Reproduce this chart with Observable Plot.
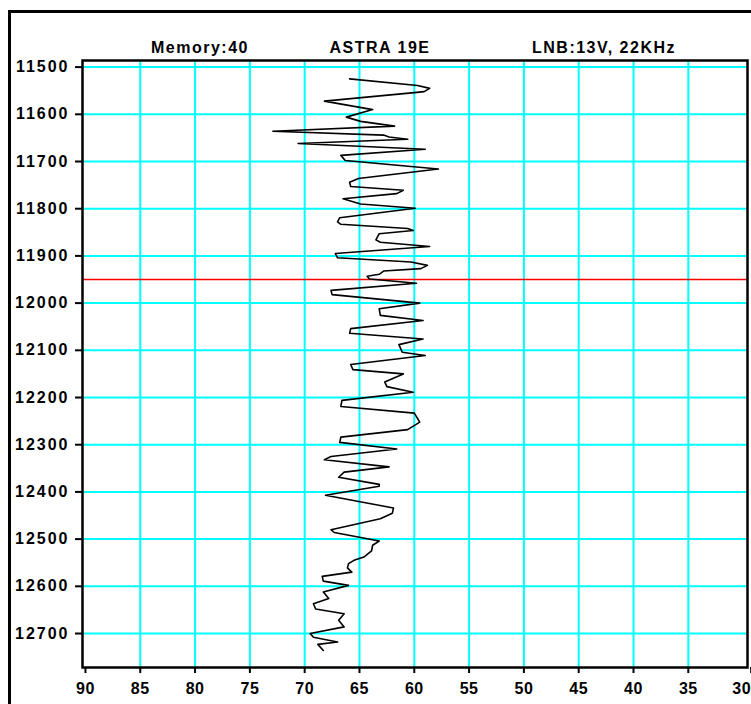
<!DOCTYPE html>
<html>
<head>
<meta charset="utf-8">
<script src="https://cdn.jsdelivr.net/npm/d3@7"></script>
<script src="https://cdn.jsdelivr.net/npm/@observablehq/plot@0.6"></script>
<style>
  html, body { margin: 0; padding: 0; background: #fff; overflow: hidden; }
  #wrap { position: relative; width: 751px; height: 704px; overflow: hidden; }
  #outer { position: absolute; left: 8px; top: 10px; width: 900px; height: 900px;
           border-top: 3px solid #000; border-left: 3px solid #000; pointer-events: none; }
  .ttl { position: absolute; top: 40px; font-family: "Liberation Sans", Arial, sans-serif;
         font-weight: bold; font-size: 16px; line-height: 1; letter-spacing: 1.5px;
         transform: translateX(-50%); white-space: nowrap; color: #000; }
  svg g[aria-label="y-axis tick label"] text { letter-spacing: 2px; }
  svg g[aria-label="x-axis tick label"] text { letter-spacing: 0.5px; }
</style>
</head>
<body>
<div id="wrap"></div>
<script>
// ---- data ----
const titles = ["Memory:40", "ASTRA 19E", "LNB:13V, 22KHz"];
const titleCenters = [200, 380, 604];
const xTicks = [90, 85, 80, 75, 70, 65, 60, 55, 50, 45, 40, 35, 30];
const yTicks = [11500, 11600, 11700, 11800, 11900, 12000, 12100, 12200, 12300, 12400, 12500, 12600, 12700];
const markerFreq = [11950];
const freq = [
  11525, 11539, 11545, 11552, 11554, 11572, 11590, 11606, 11615, 11625,
  11636, 11644, 11648, 11653, 11662, 11674, 11687, 11698, 11716, 11736,
  11744, 11753, 11761, 11768, 11779, 11790, 11799, 11819, 11828, 11833,
  11842, 11846, 11853, 11866, 11871, 11880, 11895, 11904, 11913, 11920,
  11927, 11932, 11939, 11943, 11949, 11958, 11973, 11982, 12000, 12012,
  12026, 12037, 12054, 12064, 12076, 12088, 12104, 12111, 12130, 12141,
  12150, 12167, 12177, 12189, 12206, 12219, 12233, 12252, 12268, 12284,
  12295, 12309, 12325, 12332, 12347, 12358, 12369, 12384, 12388, 12407,
  12434, 12445, 12457, 12480, 12486, 12504, 12513, 12525, 12538, 12545,
  12552, 12561, 12570, 12579, 12589, 12598, 12612, 12626, 12637, 12648,
  12658, 12672, 12686, 12700, 12708, 12718, 12723, 12736
];
const level = [
  65.9, 59.7, 58.6, 59.1, 60.0, 68.2, 63.8, 66.2, 64.9, 61.8,
  72.9, 62.8, 62.3, 60.6, 70.6, 59.0, 66.7, 66.3, 57.8, 65.1,
  65.9, 65.8, 61.0, 61.6, 66.5, 64.9, 59.9, 66.8, 67.0, 66.7,
  60.6, 60.1, 63.2, 63.5, 63.1, 58.6, 67.2, 67.0, 60.3, 58.8,
  59.4, 62.8, 63.2, 64.3, 64.1, 59.8, 67.6, 67.5, 59.5, 63.2,
  63.1, 59.2, 65.8, 65.9, 59.2, 61.4, 61.1, 59.0, 65.8, 65.6,
  61.0, 62.7, 62.5, 60.1, 66.6, 66.7, 60.0, 59.5, 60.6, 66.7,
  66.8, 61.6, 67.6, 68.2, 62.3, 66.4, 66.9, 63.2, 63.2, 68.1,
  61.9, 62.0, 63.1, 67.6, 67.3, 63.2, 63.8, 63.9, 64.6, 65.5,
  66.0, 66.1, 65.7, 68.4, 68.3, 66.0, 68.3, 67.8, 69.2, 69.0,
  66.4, 66.9, 66.4, 69.5, 69.2, 67.0, 68.8, 68.3
];

const trace = freq.map((f, i) => ({freq: f, level: level[i]}));
const fmt = d => String(d);

const chart = Plot.plot({
  width: 751,
  height: 704,
  marginLeft: 82,
  marginRight: 4,
  marginTop: 60,
  marginBottom: 37,
  style: {fontFamily: "'Liberation Sans', Arial, sans-serif", fontSize: "16px", fontWeight: "bold", background: "transparent", color: "#000"},
  x: {domain: [90.27, 29.6], label: null},
  y: {domain: [11486, 12772], reverse: true, label: null},
  marks: [
    Plot.gridX(xTicks.slice(1, -1), {stroke: "#00ffff", strokeOpacity: 1, strokeWidth: 2}),
    Plot.gridY(yTicks, {stroke: "#00ffff", strokeOpacity: 1, strokeWidth: 2}),
    Plot.ruleY(markerFreq, {stroke: "#ff0000", strokeWidth: 1.5}),
    Plot.line(trace, {x: "level", y: "freq", stroke: "#000", strokeWidth: 1.6}),
    Plot.frame({stroke: "#000", strokeWidth: 2.5}),
    Plot.axisX(xTicks.slice(0, -1), {tickSize: 6, tickPadding: 9, strokeWidth: 2, tickFormat: fmt, label: null}),
    Plot.axisX(xTicks.slice(-1), {tickSize: 6, tickPadding: 9, strokeWidth: 2, tickFormat: fmt, textAnchor: "end", dx: 8, label: null}),
    Plot.axisY(yTicks, {tickSize: 7, tickPadding: 6, strokeWidth: 2, tickFormat: fmt, label: null})
  ]
});

const wrap = document.getElementById("wrap");
wrap.appendChild(chart);
const outer = document.createElement("div");
outer.id = "outer";
wrap.appendChild(outer);
titles.forEach((t, i) => {
  const s = document.createElement("span");
  s.className = "ttl";
  s.textContent = t;
  s.style.left = titleCenters[i] + "px";
  wrap.appendChild(s);
});
</script>
</body>
</html>
